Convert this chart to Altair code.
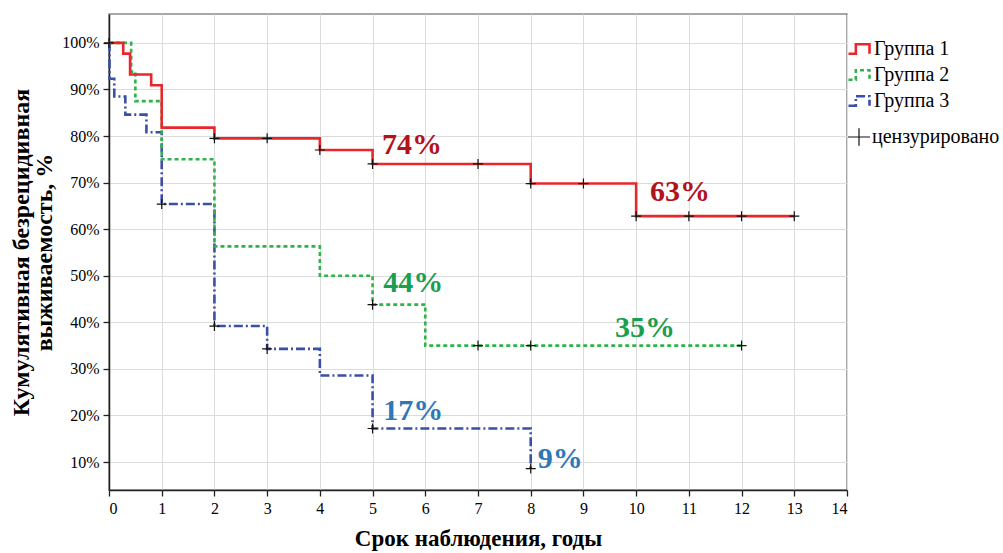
import altair as alt
import pandas as pd

groups = ["Группа 1", "Группа 2", "Группа 3"]
line_colors = ["#e8262b", "#2fb34a", "#3a4fa6"]
dashes = [[1, 0], [4, 3], [9, 3, 2, 3]]

# Kaplan-Meier steps (time in years, survival in %)
g1_t = [0, 0.27, 0.4, 0.8, 1, 2, 4, 5, 8, 10, 13]
g1_s = [100, 97.7, 93.2, 90.9, 81.8, 79.5, 77.0, 74.0, 69.8, 62.8, 62.8]
g2_t = [0, 0.42, 0.5, 1, 2, 4, 5, 6, 12]
g2_s = [100, 93.8, 87.5, 75.0, 56.3, 50.0, 43.8, 35.0, 35.0]
g3_t = [0, 0.01, 0.1, 0.31, 0.71, 1, 2, 3, 4, 5, 8]
g3_s = [100, 92.3, 88.5, 84.6, 80.8, 65.4, 39.2, 34.3, 28.6, 17.2, 8.6]

# censored observations
cens_t = [0, 2, 3, 4, 5, 7, 8, 9, 10, 11, 12, 13, 5, 7, 8, 12, 1, 2, 3, 5, 8]
cens_s = [100, 79.5, 79.5, 77.0, 74.0, 74.0, 69.8, 69.8, 62.8, 62.8, 62.8, 62.8,
          43.8, 35.0, 35.0, 35.0, 65.4, 39.2, 34.3, 17.2, 8.6]

# annotations
ann_text = ["74%", "63%", "44%", "35%", "17%", "9%"]
ann_x = [5.75, 10.83, 5.77, 10.17, 5.77, 8.56]
ann_y = [78.0, 68.0, 48.4, 38.8, 21.0, 10.7]
ann_color = ["#b3121b", "#b3121b", "#1a9e4f", "#1a9e4f", "#2e78b7", "#2e78b7"]

rows = []
for g, ts, ss in [(groups[2], g3_t, g3_s), (groups[1], g2_t, g2_s), (groups[0], g1_t, g1_s)]:
    for t, s in zip(ts, ss):
        rows.append({"group": g, "t": t, "s": s})
lines_df = pd.DataFrame(rows)
cens_df = pd.DataFrame({"t": cens_t, "s": cens_s, "lab": ["цензурировано"] * len(cens_t)})
ann_df = pd.DataFrame({"t": ann_x, "s": ann_y, "txt": ann_text, "c": ann_color})

FONT = "Liberation Serif"

xscale = alt.Scale(domain=[0, 14], nice=False)
yscale = alt.Scale(domain=[4, 106.2], nice=False)

xenc = alt.X("t:Q", scale=xscale,
             axis=alt.Axis(values=list(range(0, 15)), title="Срок наблюдения, годы",
                           titlePadding=11, titleFontSize=23))
yenc = alt.Y("s:Q", scale=yscale,
             axis=alt.Axis(values=list(range(10, 101, 10)),
                           labelExpr="datum.value + '%'",
                           title=["Кумулятивная безрецидивная", "выживаемость, %"],
                           titlePadding=5, titleFontSize=24, titleLineHeight=23))

step_path = "M -1 0.45 L -0.3 0.45 L -0.3 -0.45 L 1 -0.45 L 1 0.45"

leg_common = dict(title=None, orient="none", legendX=738, legendY=23,
                  symbolType=step_path, symbolSize=441, symbolStrokeWidth=2.6,
                  rowPadding=4, labelOffset=3, padding=0)

lines = alt.Chart(lines_df).mark_line(interpolate="step-after", strokeWidth=2.6).encode(
    x=xenc,
    y=yenc,
    color=alt.Color("group:N", scale=alt.Scale(domain=groups, range=line_colors),
                    legend=alt.Legend(**leg_common)),
    strokeDash=alt.StrokeDash("group:N", scale=alt.Scale(domain=groups, range=dashes),
                              legend=alt.Legend(**leg_common)),
)

cross_path = "M -1 0 L 1 0 M 0 -1 L 0 1"
cens = alt.Chart(cens_df).mark_point(shape=cross_path, size=100, strokeWidth=1.2,
                                     filled=False, opacity=1).encode(
    x="t:Q",
    y="s:Q",
    stroke=alt.Stroke("lab:N", scale=alt.Scale(range=["#111111"]),
                      legend=alt.Legend(title=None, orient="none", legendX=738, legendY=111,
                                        symbolType="M -1 0 L 1 0 M 0 -0.8 L 0 0.8",
                                        symbolSize=484, symbolStrokeWidth=1.2,
                                        labelOffset=1, padding=0)),
)

ann = alt.Chart(ann_df).mark_text(font=FONT, fontSize=30, fontWeight="bold").encode(
    x="t:Q",
    y="s:Q",
    text="txt:N",
    color=alt.Color("c:N", scale=None),
)

chart = alt.layer(lines, cens, ann).properties(
    width=738, height=476,
    padding={"left": 109, "top": 14, "right": 156, "bottom": 63},
    autosize=alt.AutoSizeParams(type="none"),
    background="white",
).configure_view(
    stroke="#8a8a8a", strokeWidth=1.5,
).configure_axis(
    labelFont=FONT, labelFontSize=16, labelColor="black",
    titleFont=FONT, titleFontWeight="bold", titleColor="black",
    domainColor="#222222", domainWidth=1.5, tickColor="#222222", tickSize=6, tickWidth=1.3,
    gridColor="#dcdcdc", gridWidth=1, labelPadding=4,
).configure_legend(
    labelFont=FONT, labelFontSize=20, labelColor="black",
).configure_text(font=FONT)

chart.save("out.html", embed_options={"renderer": "svg", "actions": False})
